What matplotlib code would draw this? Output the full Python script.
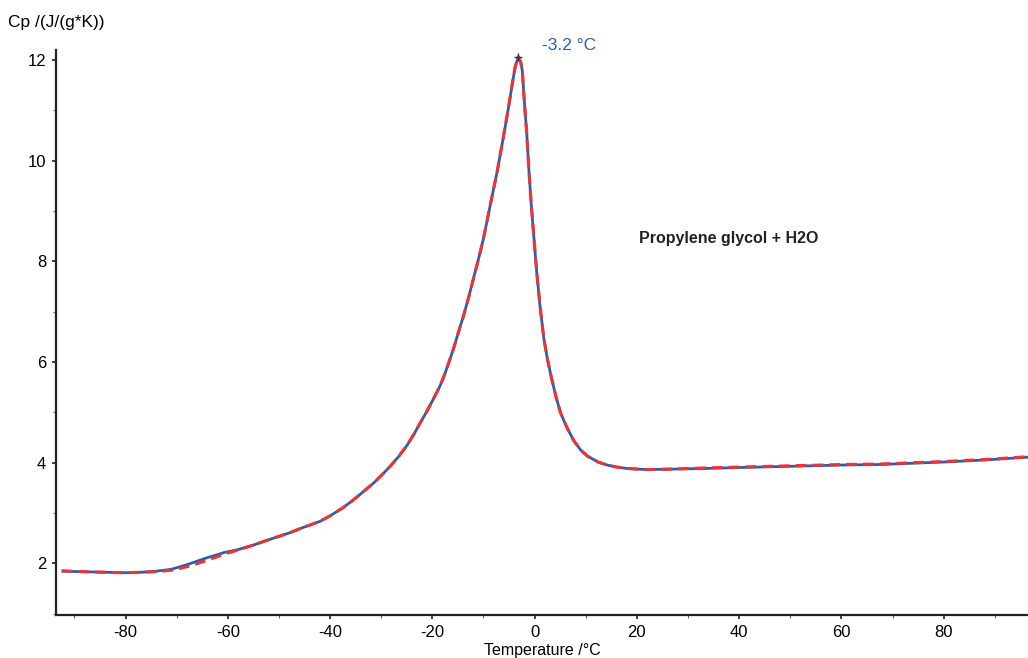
import matplotlib.pyplot as plt
from matplotlib.ticker import MultipleLocator

plt.rcParams['font.family'] = ['Liberation Sans', 'DejaVu Sans']
plt.rcParams['axes.unicode_minus'] = False

# temperature (°C) and Cp (J/(g*K))
temp = [-92.5, -88, -84, -80, -77, -74, -71, -68, -66, -64, -62, -60.8, -58, -55, -51,
        -48, -45, -42, -40, -37.5, -35.4, -33.5, -31.4, -29.8, -28.2, -26.5, -24.9,
        -23.5, -22.3, -21, -19.7, -18.6, -17.7, -16.8, -15.8, -14.8, -13.8, -12.8,
        -11.9, -10.9, -10.0, -9.3, -8.3, -7.3, -6.5, -5.7, -5.0, -4.4, -3.8, -3.2,
        -2.7, -2.4, -1.96, -1.56, -1.1, -0.65, -0.13, 0.4, 1.04, 1.8, 2.5, 3.3, 4.2,
        5.1, 6.4, 7.7, 9.0, 10.3, 12.4, 14.2, 16, 18.2, 22, 27, 32.5, 40, 52, 60, 67.5,
        80, 88, 97]
cp_blue = [1.84, 1.83, 1.82, 1.81, 1.82, 1.84, 1.88, 1.97, 2.04, 2.11, 2.17, 2.21, 2.27, 2.36, 2.50,
           2.60, 2.72, 2.83, 2.94, 3.10, 3.26, 3.42, 3.60, 3.76, 3.93, 4.13, 4.35,
           4.58, 4.80, 5.03, 5.28, 5.50, 5.72, 5.98, 6.28, 6.62, 6.95, 7.32,
           7.68, 8.07, 8.45, 8.80, 9.30, 9.79, 10.24, 10.70, 11.12, 11.50, 11.86, 12.06,
           11.95, 11.78, 11.11, 10.58, 9.79, 9.12, 8.46, 7.80, 7.13, 6.47, 6.06, 5.68, 5.30,
           4.98, 4.68, 4.43, 4.25, 4.13, 4.01, 3.95, 3.91, 3.88, 3.86, 3.87, 3.88, 3.90, 3.93, 3.95, 3.96,
           4.01, 4.05, 4.11]
cp_red = [1.85, 1.83, 1.82, 1.81, 1.82, 1.83, 1.86, 1.93, 1.99, 2.06, 2.13, 2.18, 2.26, 2.36, 2.50,
          2.60, 2.72, 2.83, 2.94, 3.10, 3.26, 3.42, 3.60, 3.76, 3.93, 4.13, 4.35,
          4.58, 4.80, 5.03, 5.28, 5.50, 5.72, 5.98, 6.28, 6.62, 6.95, 7.32,
          7.68, 8.07, 8.45, 8.80, 9.30, 9.79, 10.24, 10.70, 11.12, 11.50, 11.86, 12.06,
          11.95, 11.78, 11.11, 10.58, 9.79, 9.12, 8.46, 7.80, 7.13, 6.47, 6.06, 5.68, 5.30,
          4.98, 4.68, 4.43, 4.25, 4.13, 4.01, 3.95, 3.91, 3.88, 3.86, 3.87, 3.89, 3.91, 3.94, 3.96, 3.97,
          4.02, 4.06, 4.12]
peak_t = -3.2
peak_cp = 12.06

blue = '#2a5fae'
red = '#ee3333'

fig = plt.figure(figsize=(10.28, 6.58), dpi=100)
ax = fig.add_axes([0.0545, 0.0653, 0.9455, 0.859])

ax.plot(temp, cp_blue, color=blue, lw=2.0, solid_capstyle='butt')
ax.plot(temp, cp_red, color=red, lw=2.2, dashes=(3.5, 2.0))
ax.plot([peak_t], [peak_cp], marker='+', color='#333333', ms=6, mew=1)
ax.annotate(f'{peak_t} °C', (peak_t, peak_cp), xytext=(17, 3), textcoords='offset points',
            color=blue, fontsize=12.5, va='bottom')
ax.text(38, 8.46, 'Propylene glycol + H2O', fontsize=11.5, fontweight='bold',
        color='#222222', ha='center', va='center')

ax.set_xlim(-93.6, 96.5)
ax.set_ylim(0.97, 12.2)
ax.xaxis.set_major_locator(MultipleLocator(20))
ax.xaxis.set_minor_locator(MultipleLocator(10))
ax.yaxis.set_major_locator(MultipleLocator(2))
ax.yaxis.set_minor_locator(MultipleLocator(1))
ax.tick_params(which='major', length=3, width=1.2, labelsize=12, pad=4, color='#222222')
ax.tick_params(which='minor', length=2, width=0.8, color='#666666')
for s in ['top', 'right']:
    ax.spines[s].set_visible(False)
for s in ['left', 'bottom']:
    ax.spines[s].set_linewidth(1.6)
    ax.spines[s].set_color('#222222')

ax.set_xlabel('Temperature /°C', fontsize=11.5, labelpad=2)
fig.text(105 / 1028, 0.966, 'Cp /(J/(g*K))', fontsize=12.5, ha='right', va='center')

fig.savefig('out.png', dpi=100)
